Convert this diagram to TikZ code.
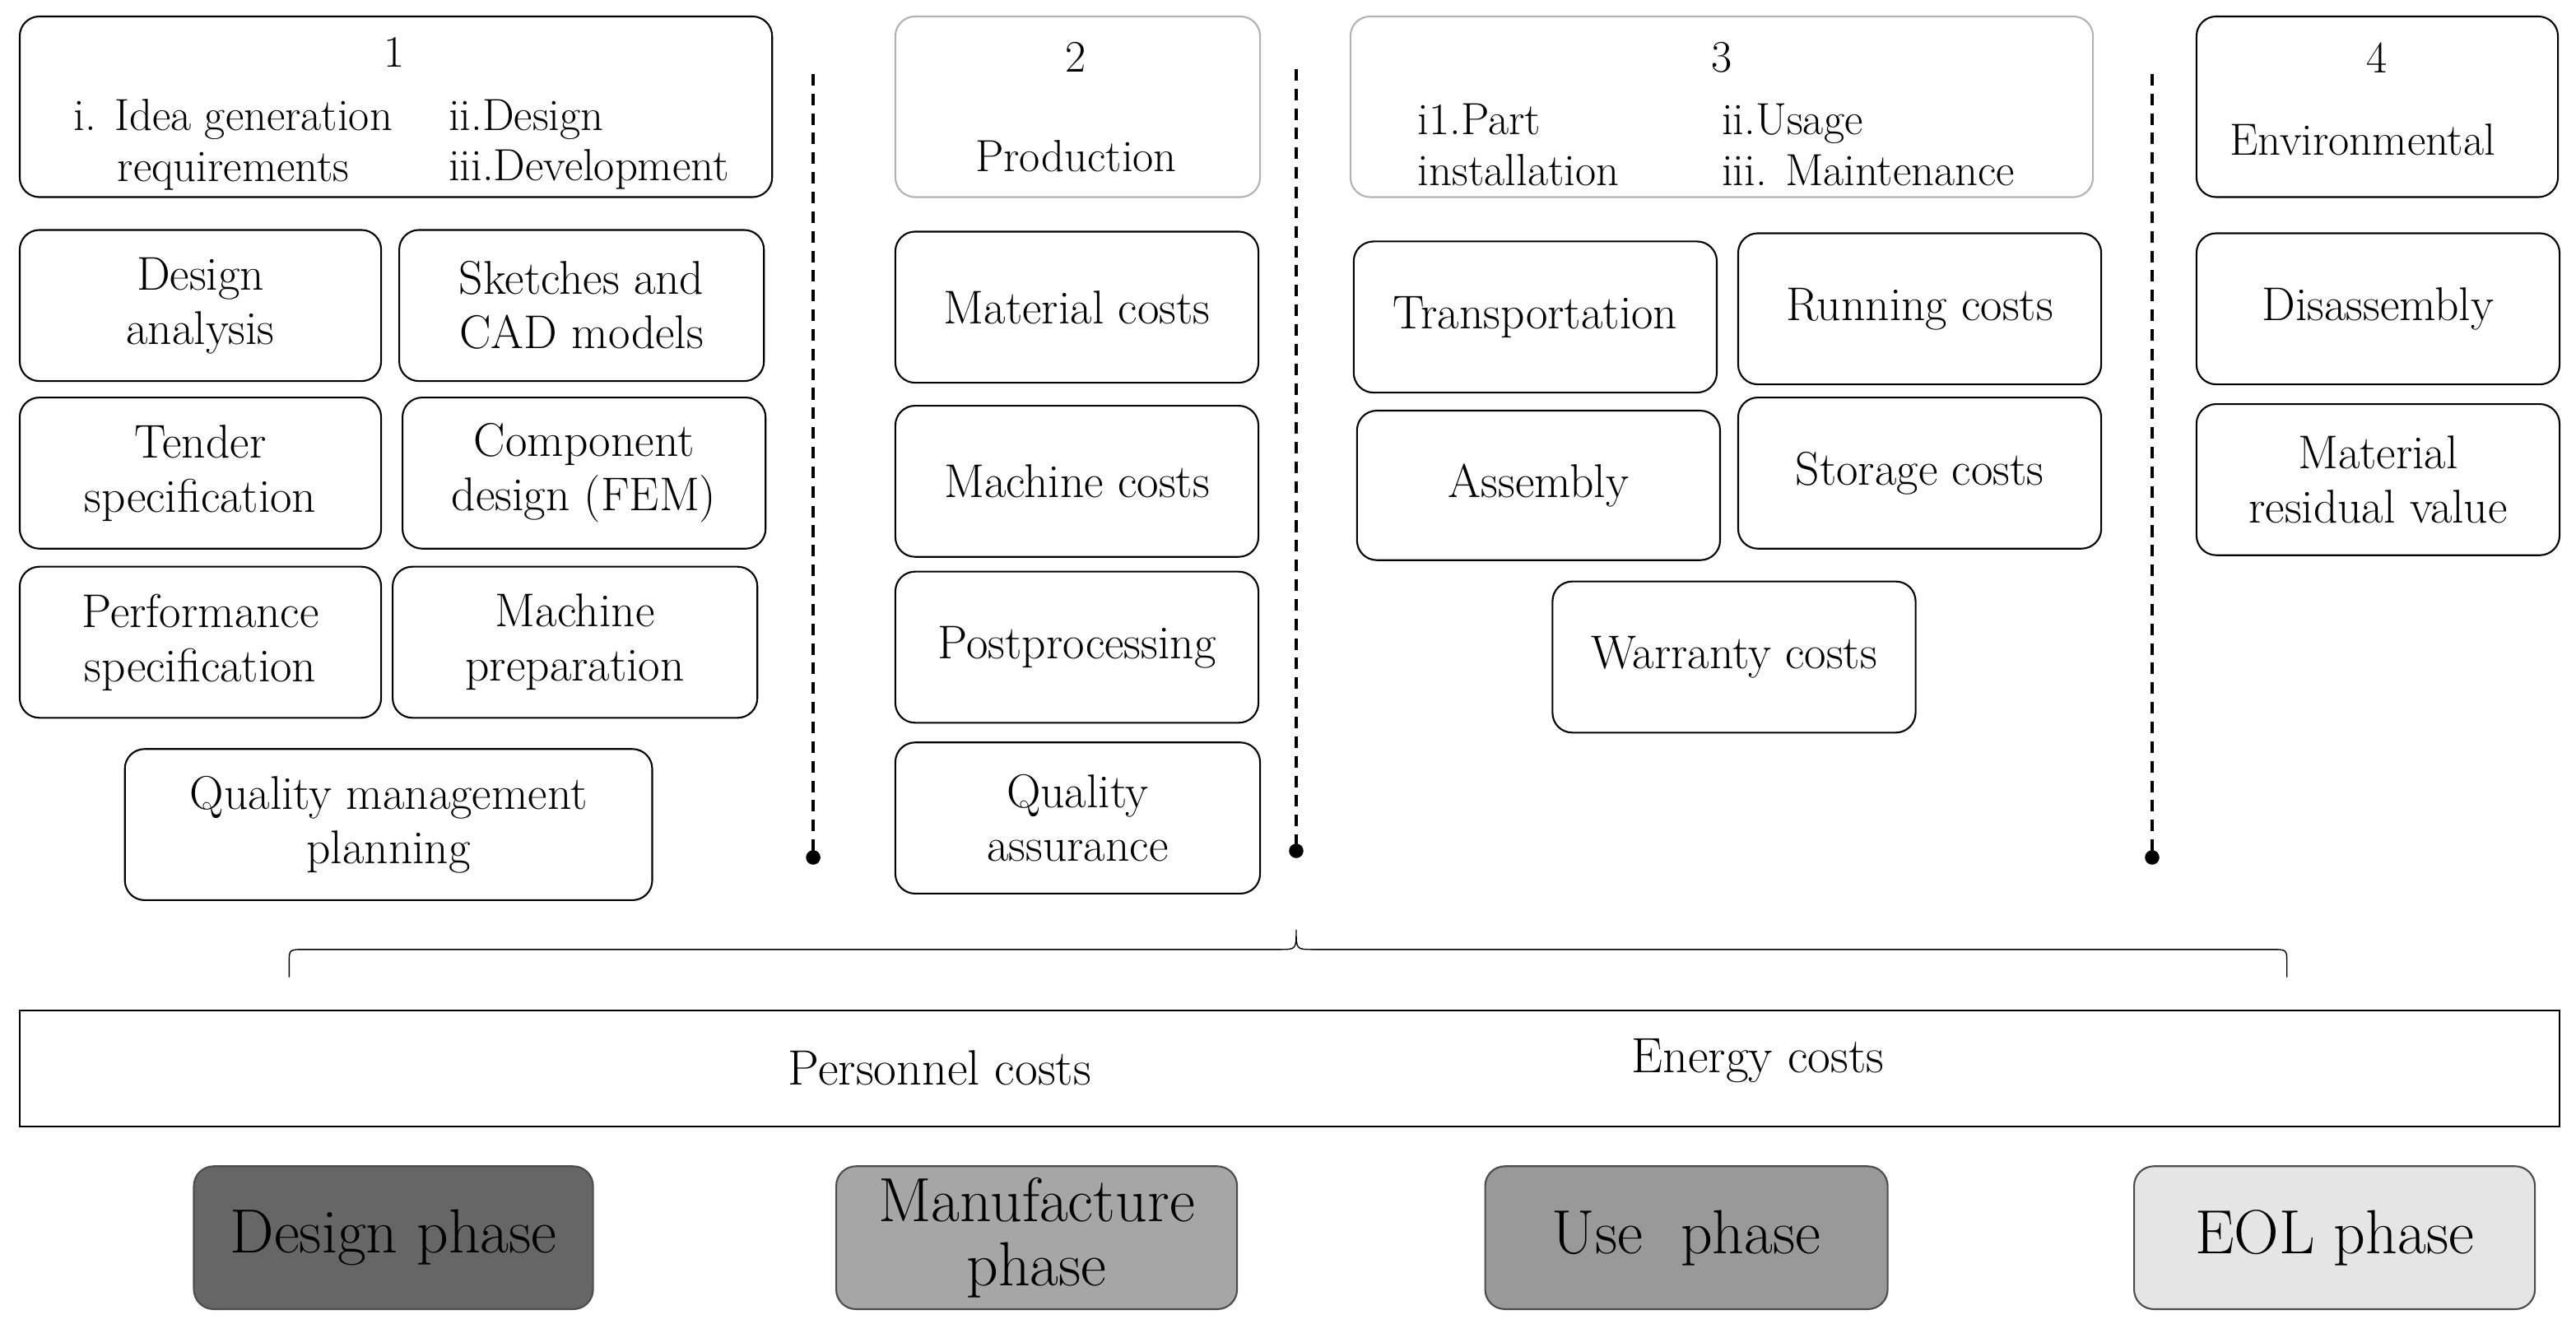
\documentclass[tikz,border=0pt]{standalone}
\usepackage{fontspec}
\begin{document}
\begin{tikzpicture}[x=0.5mm,y=-0.5mm,
 box/.style={draw,rounded corners=6mm,line width=1.5pt,align=center,inner sep=0pt,font=\fontsize{41}{47}\selectfont},
 gbox/.style={box,draw=gray!60},
 phase/.style={box,font=\fontsize{54}{56}\selectfont,draw=black!70},
 lbl/.style={font=\fontsize{39}{44}\selectfont,align=left,inner sep=0pt},
 sep/.style={dashed,dash pattern=on 10pt off 7pt,line width=2.5pt}]
\useasboundingbox (0,0) rectangle (1568,806);
\newcommand\bx[7][box]{\node[#1,minimum width={(#5-#3)*0.5mm},minimum height={(#6-#4)*0.5mm}] (#2) at ({(#3+#5)/2},{(#4+#6)/2}) {#7};}
% column 1
\bx{h1}{12}{10}{470}{120}{}
\node[lbl] (n1) at (240,32) {1};
\node[lbl,align=center] (t1a) at (142,88) {i. Idea generation\\requirements};
\node[lbl,anchor=west] (t1b) at (273,88) {ii.Design\\iii.Development};
\bx{da}{12}{140}{232}{232}{Design\\analysis}
\bx{sk}{243}{140}{465}{232}{Sketches and\\CAD models}
\bx{ts}{12}{242}{232}{334}{Tender\\specification}
\bx{cd}{245}{242}{466}{334}{Component\\design (FEM)}
\bx{ps}{12}{345}{232}{437}{Performance\\specification}
\bx{mp}{239}{345}{461}{437}{Machine\\preparation}
\bx{qm}{76}{456}{397}{548}{Quality management\\planning}
\coordinate (s1a) at (495,45); \coordinate (s1b) at (495,522);
\draw[sep] (s1a) -- (s1b); \fill (s1b) circle (2.2mm);
% column 2
\bx[gbox]{h2}{545}{10}{767}{120}{}
\node[lbl] (n2) at (655,35) {2};
\node[lbl] (pr) at (655,95) {Production};
\bx{mc}{545}{141}{766}{233}{Material costs}
\bx{mac}{545}{247}{766}{339}{Machine costs}
\bx{pp}{545}{348}{766}{440}{Postprocessing}
\bx{qa}{545}{452}{767}{544}{Quality\\assurance}
\coordinate (s2a) at (789,42); \coordinate (s2b) at (789,518);
\draw[sep] (s2a) -- (s2b); \fill (s2b) circle (2.2mm);
% column 3
\bx[gbox]{h3}{822}{10}{1274}{120}{}
\node[lbl] (n3) at (1048,35) {3};
\node[lbl,anchor=west] (t3a) at (863,88) {i1.Part\\installation};
\node[lbl,anchor=west] (t3b) at (1048,88) {ii.Usage\\iii. Maintenance};
\bx{tr}{824}{147}{1045}{239}{Transportation}
\bx{rc}{1058}{142}{1279}{234}{Running costs}
\bx{as}{826}{250}{1047}{341}{Assembly}
\bx{sc}{1058}{242}{1279}{334}{Storage costs}
\bx{wc}{945}{354}{1166}{446}{Warranty costs}
\coordinate (s3a) at (1310,45); \coordinate (s3b) at (1310,522);
\draw[sep] (s3a) -- (s3b); \fill (s3b) circle (2.2mm);
% column 4
\bx{h4}{1337}{10}{1557}{120}{}
\node[lbl] (n4) at (1447,35) {4};
\node[lbl] (env) at (1438,85) {Environmental};
\bx{dis}{1337}{142}{1558}{234}{Disassembly}
\bx{mrv}{1337}{246}{1558}{338}{Material\\residual value}
% brace
\draw[line width=1pt] (176,595) -- (176,586) .. controls (176,578) .. (186,578) -- (779,578) .. controls (789,578) .. (789,566) .. controls (789,578) .. (799,578) -- (1382,578) .. controls (1392,578) .. (1392,586) -- (1392,595);
% cost bar
\node[draw,line width=1.5pt,minimum width=773mm,minimum height=35.5mm,inner sep=0pt] (bar) at (785,650.5) {};
\node[lbl,font=\fontsize{43}{46}\selectfont] (pc) at (572,650) {Personnel costs};
\node[lbl,font=\fontsize{43}{46}\selectfont] (ec) at (1070,646) {Energy costs};
% phases
\bx[phase,fill=black!60]{dp}{118}{710}{361}{797}{Design phase}
\bx[phase,fill=black!35]{mfp}{509}{710}{753}{797}{Manufacture\\phase}
\bx[phase,fill=black!40]{up}{904}{710}{1149}{797}{Use\ \ phase}
\bx[phase,fill=black!10]{ep}{1299}{710}{1543}{797}{EOL phase}
\end{tikzpicture}
\end{document}
